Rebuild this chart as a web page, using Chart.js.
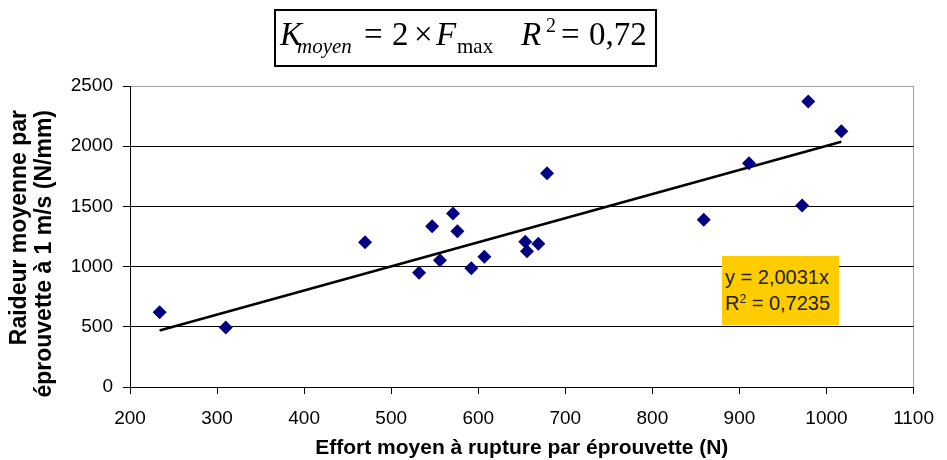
<!DOCTYPE html>
<html>
<head>
<meta charset="utf-8">
<script src="https://cdn.jsdelivr.net/npm/chart.js@4.4.1/dist/chart.umd.min.js"></script>
<style>
body { margin: 0; background: #fff; }
#wrap { position: relative; width: 947px; height: 460px; }
#box { position: absolute; left: 274px; top: 9px; width: 379px; height: 54px; border: 2px solid #000; }
.f { position: absolute; line-height: 0; white-space: nowrap; font-family: "Liberation Serif", serif; color: #000; }
.big { font-size: 33px; top: 33.9px; }
.sub { font-size: 21px; top: 45.9px; }
.sup { font-size: 20px; top: 25.3px; }
.it { font-style: italic; }
#fit {
    position: absolute; left: 722px; top: 256px; width: 117px; height: 69px;
    background: #ffcc00; font-family: "Liberation Sans", Arial, sans-serif; font-size: 20px;
    color: #222; line-height: 26px; padding: 8px 0 0 3px; box-sizing: border-box; white-space: nowrap;
}
#fit sup { font-size: 12px; vertical-align: 7px; line-height: 0; }
</style>
</head>
<body>
<div id="wrap">
    <canvas id="chart" width="947" height="460"></canvas>
    <div id="box"></div>
    <span class="f big it" style="left:280px">K</span>
    <span class="f sub it" style="left:297px">moyen</span>
    <span class="f big" style="left:364px">=</span>
    <span class="f big" style="left:392px">2</span>
    <span class="f big" style="left:414px">×</span>
    <span class="f big it" style="left:436px">F</span>
    <span class="f sub" style="left:457px">max</span>
    <span class="f big it" style="left:521px">R</span>
    <span class="f sup" style="left:546px">2</span>
    <span class="f big" style="left:561px">=</span>
    <span class="f big" style="left:589px">0,72</span>
    <div id="fit">y = 2,0031x<br>R<sup>2</sup> = 0,7235</div>
</div>
<script>
// effort moyen a rupture (N) / raideur moyenne (N/mm)
const effortN = [234, 310, 470, 532, 547, 556, 571, 576, 592, 607, 654, 656, 669, 679, 859, 911, 972, 979, 1017];
const raideur = [620, 495, 1203, 948, 1336, 1053, 1442, 1294, 986, 1081, 1206, 1128, 1189, 1775, 1389, 1858, 1508, 2372, 2125];
const slope = 2.0031;

const xTitle = "Effort moyen à rupture par éprouvette (N)";
const yTitle = ["Raideur moyenne par", "éprouvette à 1 m/s (N/mm)"];

const FONT = "'Liberation Sans', Arial, sans-serif";

const points = effortN.map((x, i) => ({ x: x, y: raideur[i] }));
const xMin = Math.min(...effortN);
const xMax = Math.max(...effortN);
const trend = [{ x: xMin, y: slope * xMin }, { x: xMax, y: slope * xMax }];

// y axis title, two lines, ends aligned near the top of the plot
const yTitlePlugin = {
    id: "yTitle",
    afterDraw(chart) {
        const ctx = chart.ctx;
        ctx.save();
        ctx.font = "bold 23px " + FONT;
        ctx.fillStyle = "#000";
        ctx.textAlign = "right";
        ctx.textBaseline = "alphabetic";
        const baseX = [26, 51];
        yTitle.forEach((line, i) => {
            ctx.save();
            ctx.translate(baseX[i], chart.chartArea.top + 24);
            ctx.rotate(-Math.PI / 2);
            ctx.fillText(line, 0, 0);
            ctx.restore();
        });
        ctx.restore();
    }
};

new Chart(document.getElementById("chart"), {
    type: "scatter",
    data: {
        datasets: [
            {
                data: points,
                pointStyle: "rectRot",
                pointRadius: 7,
                backgroundColor: "#000080",
                borderColor: "#000080",
                borderWidth: 0
            },
            {
                type: "line",
                data: trend,
                borderColor: "#000",
                borderWidth: 2.5,
                pointRadius: 0,
                fill: false
            }
        ]
    },
    options: {
        responsive: false,
        animation: false,
        layout: { padding: { top: 86, right: 23, bottom: 0, left: 0 } },
        plugins: { legend: { display: false }, tooltip: { enabled: false } },
        scales: {
            x: {
                type: "linear",
                min: 200,
                max: 1100,
                ticks: {
                    stepSize: 100, color: "#000", padding: 13,
                    font: { family: FONT, size: 19 },
                    callback: v => String(v)
                },
                grid: {
                    color: c => (c.tick && c.tick.value === 1100 ? "#a0a0a0" : "rgba(0,0,0,0)"),
                    tickColor: "#000",
                    tickLength: 7
                },
                border: { color: "#000", width: 1 },
                title: {
                    display: true, text: xTitle, color: "#000",
                    font: { family: FONT, size: 21, weight: "bold", lineHeight: 1.1 },
                    padding: { top: 0, bottom: 0 }
                },
                afterFit: s => { s.height = 73; }
            },
            y: {
                min: 0,
                max: 2500,
                ticks: {
                    stepSize: 500, color: "#000", padding: 10,
                    font: { family: FONT, size: 19 },
                    callback: v => String(v)
                },
                grid: {
                    color: c => (c.tick && c.tick.value === 2500 ? "#a0a0a0" : "#000"),
                    tickColor: "#000",
                    tickLength: 7
                },
                border: { color: "#000", width: 1 },
                afterFit: s => { s.width = 130; }
            }
        }
    },
    plugins: [yTitlePlugin]
});
</script>
</body>
</html>
